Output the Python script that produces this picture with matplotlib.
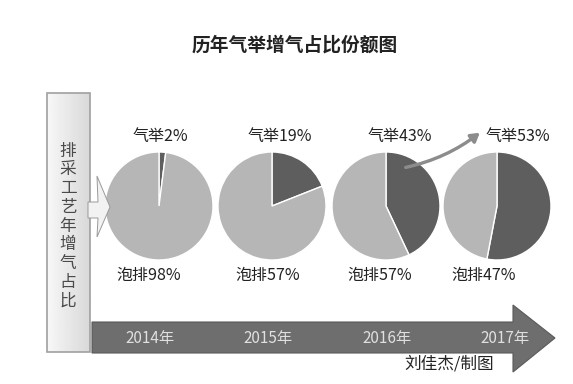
import matplotlib.pyplot as plt
from matplotlib.patches import Polygon, Rectangle, FancyArrowPatch
import numpy as np

plt.rcParams['font.family'] = ['Noto Sans CJK SC', 'DejaVu Sans']

# Daten
years = ['2014年', '2015年', '2016年', '2017年']
gas_lift = [2, 19, 43, 53]          # 气举 share drawn in pie
foam_share = [98, 81, 57, 47]       # 泡排 share drawn in pie
foam_label = [98, 57, 57, 47]       # 泡排 value as printed in the source
title = '历年气举增气占比份额图'
side_text = '排采工艺年增气占比'
credit = '刘佳杰/制图'

W, H = 573, 384
dark = '#5e5e5e'
light = '#b6b6b6'

def Y(y):
    # image row -> data y
    return H - y

fig = plt.figure(figsize=(W / 100, H / 100), dpi=100)
ax = fig.add_axes([0, 0, 1, 1])

ax.text(295, Y(45), title, fontsize=13.5, fontweight='bold',
        ha='center', va='center', color='#222222')

# left box with gradient
grad = np.linspace(0, 1, 50)
grad = np.vstack([grad, grad])
ax.imshow(0.97 - 0.12 * grad, cmap='gray', vmin=0, vmax=1, aspect='auto',
          extent=(47, 90, Y(352), Y(93)), zorder=1)
ax.add_patch(Rectangle((47, Y(352)), 43, 259, fill=False, edgecolor='#a0a0a0',
                       linewidth=1.2, zorder=2))
for i, ch in enumerate(side_text):
    ax.text(68, Y(151 + i * 18.8), ch, fontsize=12, fontweight='medium',
            ha='center', va='center', color='#4a4a4a', zorder=3)

# small arrow from box to first pie
ax.add_patch(Polygon([(88, Y(202)), (98, Y(202)), (97, Y(176)), (110, Y(207)),
                      (97, Y(237)), (98, Y(218)), (88, Y(218))],
                     closed=True, facecolor='#f2f2f2', edgecolor='#9a9a9a',
                     linewidth=0.7, zorder=2))

# pies
centers = [159, 272, 386, 497]
cy = 206
for i, cx in enumerate(centers):
    ax.pie([gas_lift[i], foam_share[i]], center=(cx, Y(cy)), radius=54,
           startangle=90, counterclock=False, colors=[dark, light],
           wedgeprops=dict(edgecolor='white', linewidth=1))

top_lx = [160, 280, 400, 518]
bot_lx = [149, 268, 380, 484]
for i in range(4):
    ax.text(top_lx[i], Y(137), f'气举{gas_lift[i]}%', fontsize=11.5,
            ha='center', va='center', color='#222222', zorder=5)
    ax.text(bot_lx[i], Y(275), f'泡排{foam_label[i]}%', fontsize=11.5,
            ha='center', va='center', color='#222222', zorder=5)

# curved arrow 2016 -> 2017
ax.add_patch(FancyArrowPatch((403, Y(168)), (482, Y(131)),
                             connectionstyle='arc3,rad=0.12',
                             arrowstyle='-|>,head_length=5,head_width=3',
                             color='#8c8c8c', linewidth=2.4, zorder=6))

# timeline arrow
ax.add_patch(Polygon([(92, Y(322)), (513, Y(322)), (513, Y(305)), (555, Y(338)),
                      (513, Y(372)), (513, Y(353)), (92, Y(353))],
                     closed=True, facecolor='#6e6e6e', edgecolor='#5a5a5a',
                     linewidth=0.8, zorder=3))
for i, cx in enumerate(centers):
    ax.text([150, 268, 387, 505][i], Y(338), years[i], fontsize=11,
            ha='center', va='center', color='#e0e0e0', zorder=4)

ax.text(449, Y(364), credit, fontsize=12, ha='center', va='center',
        color='#222222', zorder=5)

ax.set_xlim(0, W)
ax.set_ylim(0, H)
ax.set_aspect('auto')
ax.axis('off')

fig.savefig('out.png', dpi=100, facecolor='white')
